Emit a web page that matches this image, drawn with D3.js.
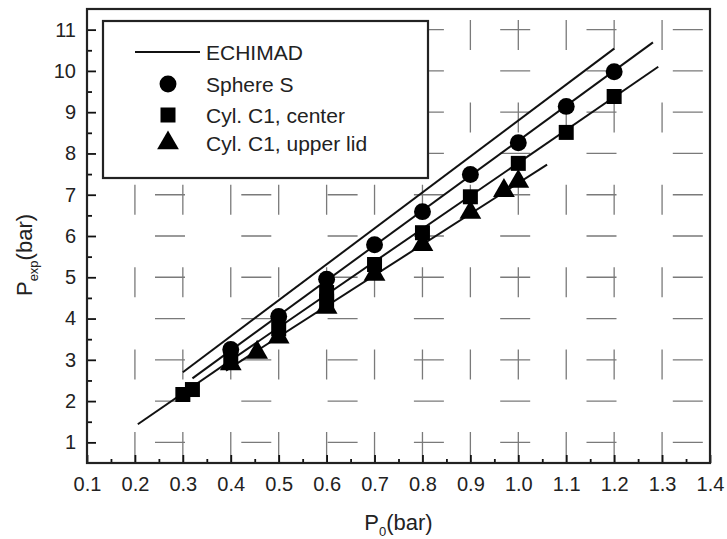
<!DOCTYPE html>
<html lang="en">
<head>
    <meta charset="UTF-8">
    <title>Pexp vs P0</title>
    <script src="https://d3js.org/d3.v7.min.js"></script>
    <style>
        body { margin: 0; background: #fff; }
        text { font-family: "Liberation Sans", Arial, sans-serif; fill: #222; }
        .grid line { stroke: #7a7a7a; stroke-width: 1.3; }
        .fit { fill: none; stroke: #111; stroke-width: 2; }
    </style>
</head>
<body>
    <div id="chart"></div>

    <script>
        // Data
        const sphereX = [0.4, 0.5, 0.6, 0.7, 0.8, 0.9, 1.0, 1.1, 1.2];
        const sphereY = [3.25, 4.05, 4.95, 5.79, 6.59, 7.49, 8.26, 9.14, 9.98];
        const centerX = [0.3, 0.32, 0.4, 0.5, 0.6, 0.6, 0.7, 0.8, 0.9, 1.0, 1.1, 1.2];
        const centerY = [2.16, 2.28, 3.0, 3.75, 4.63, 4.42, 5.31, 6.08, 6.95, 7.76, 8.51, 9.38];
        const lidX = [0.4, 0.455, 0.5, 0.6, 0.7, 0.8, 0.9, 0.97, 1.0];
        const lidY = [2.9, 3.18, 3.55, 4.27, 5.07, 5.79, 6.57, 7.1, 7.32];

        // straight lines: ECHIMAD and fits through each series (end points)
        const echimadLine = [[0.3, 2.7], [1.2, 10.54]];
        const sphereLine = [[0.32, 2.55], [1.281, 10.69]];
        const centerLine = [[0.206, 1.44], [1.292, 10.1]];
        const lidLine = [[0.39, 2.74], [1.06, 7.73]];

        const xTicks = [0.1, 0.2, 0.3, 0.4, 0.5, 0.6, 0.7, 0.8, 0.9, 1.0, 1.1, 1.2, 1.3, 1.4];
        const yTicks = [1, 2, 3, 4, 5, 6, 7, 8, 9, 10, 11];
        const legendLabels = ["ECHIMAD", "Sphere S", "Cyl. C1, center", "Cyl. C1, upper lid"];

        const width = 727, height = 539;
        const m = {left: 87, right: 710, top: 9, bottom: 463};

        const x = d3.scaleLinear().domain([0.1, 1.4]).range([m.left, m.right]);
        const y = d3.scaleLinear().domain([0.5, 11.5]).range([m.bottom, m.top]);

        const svg = d3.select("#chart").append("svg")
            .attr("width", width)
            .attr("height", height);

        // dashed grid
        const grid = svg.append("g").attr("class", "grid");
        grid.selectAll(".h")
            .data(yTicks)
            .enter().append("line")
            .attr("x1", 100).attr("x2", m.right)
            .attr("y1", d => y(d)).attr("y2", d => y(d))
            .attr("stroke-dasharray", "30,56.3")
            .attr("stroke-dashoffset", 31.3);
        grid.selectAll(".v")
            .data(xTicks.slice(1, -1))
            .enter().append("line")
            .attr("x1", d => x(d)).attr("x2", d => x(d))
            .attr("y1", m.top).attr("y2", m.bottom)
            .attr("stroke-dasharray", "30,52.4")
            .attr("stroke-dashoffset", 71.4);

        // fitted lines
        const line = d3.line().x(d => x(d[0])).y(d => y(d[1]));
        svg.append("path").datum(echimadLine).attr("class", "fit").attr("d", line).attr("stroke-width", 2.6);
        [sphereLine, centerLine, lidLine].forEach(function(l) {
            svg.append("path").datum(l).attr("class", "fit").attr("d", line);
        });

        // markers
        const sym = {
            circle: d3.symbol().type(d3.symbolCircle).size(225),
            square: d3.symbol().type(d3.symbolSquare).size(225),
            triangle: d3.symbol().type(d3.symbolTriangle).size(205)
        };
        function drawSeries(xs, ys, s) {
            svg.append("g").selectAll("path")
                .data(xs.map((v, i) => [v, ys[i]]))
                .enter().append("path")
                .attr("d", s)
                .attr("fill", "#000")
                .attr("transform", d => "translate(" + x(d[0]) + "," + y(d[1]) + ")");
        }
        drawSeries(lidX, lidY, sym.triangle);
        drawSeries(centerX, centerY, sym.square);
        drawSeries(sphereX, sphereY, sym.circle);

        // axes (ticks inside)
        const xAxis = svg.append("g").attr("transform", "translate(0," + m.bottom + ")")
            .call(d3.axisBottom(x).tickValues(xTicks).tickSize(-8).tickPadding(14)
                .tickFormat(d3.format(".1f")));
        svg.append("g").attr("transform", "translate(0," + m.bottom + ")")
            .call(d3.axisBottom(x).tickValues(d3.range(0.15, 1.4, 0.1)).tickSize(-4).tickFormat(""));
        const yAxis = svg.append("g").attr("transform", "translate(" + m.left + ",0)")
            .call(d3.axisLeft(y).tickValues(yTicks).tickSize(-9).tickPadding(11));
        svg.append("g").attr("transform", "translate(" + m.left + ",0)")
            .call(d3.axisLeft(y).tickValues(d3.range(1.5, 11.5, 1)).tickSize(-5).tickFormat(""));

        svg.selectAll(".domain").remove();
        svg.selectAll(".tick line").attr("stroke", "#111").attr("stroke-width", 1.8);
        xAxis.selectAll("text").attr("font-size", 20).attr("fill", "#333").attr("font-family", "Liberation Sans, Arial, sans-serif");
        yAxis.selectAll("text").attr("font-size", 20).attr("fill", "#333").attr("font-family", "Liberation Sans, Arial, sans-serif");

        // frame
        svg.append("rect")
            .attr("x", m.left).attr("y", m.top)
            .attr("width", m.right - m.left).attr("height", m.bottom - m.top)
            .attr("fill", "none").attr("stroke", "#222").attr("stroke-width", 2.2);

        // legend
        const lg = svg.append("g");
        lg.append("rect")
            .attr("x", 103).attr("y", 21).attr("width", 325).attr("height", 157)
            .attr("fill", "#fff").attr("stroke", "#222").attr("stroke-width", 2.2);
        const rows = [52, 84, 115, 143];
        lg.append("line").attr("x1", 135).attr("x2", 200).attr("y1", rows[0]).attr("y2", rows[0])
            .attr("stroke", "#111").attr("stroke-width", 2.2);
        [sym.circle, sym.square, sym.triangle].forEach(function(s, i) {
            lg.append("path").attr("d", s).attr("fill", "#000")
                .attr("transform", "translate(168," + rows[i + 1] + ")");
        });
        lg.selectAll("text.lab")
            .data(legendLabels)
            .enter().append("text")
            .attr("x", 206)
            .attr("y", (d, i) => rows[i])
            .attr("dy", "0.36em")
            .attr("font-size", 21)
            .text(d => d);

        // axis titles
        const xt = svg.append("text")
            .attr("x", (m.left + m.right) / 2)
            .attr("y", 530)
            .attr("text-anchor", "middle")
            .attr("font-size", 22);
        xt.append("tspan").text("P");
        xt.append("tspan").attr("dy", 6).attr("font-size", 13).text("0");
        xt.append("tspan").attr("dy", -6).text("(bar)");

        const yt = svg.append("text")
            .attr("transform", "translate(32,255) rotate(-90)")
            .attr("text-anchor", "middle")
            .attr("font-size", 22);
        yt.append("tspan").text("P");
        yt.append("tspan").attr("dy", 6).attr("font-size", 13).text("exp");
        yt.append("tspan").attr("dy", -6).text("(bar)");
    </script>
</body>
</html>
